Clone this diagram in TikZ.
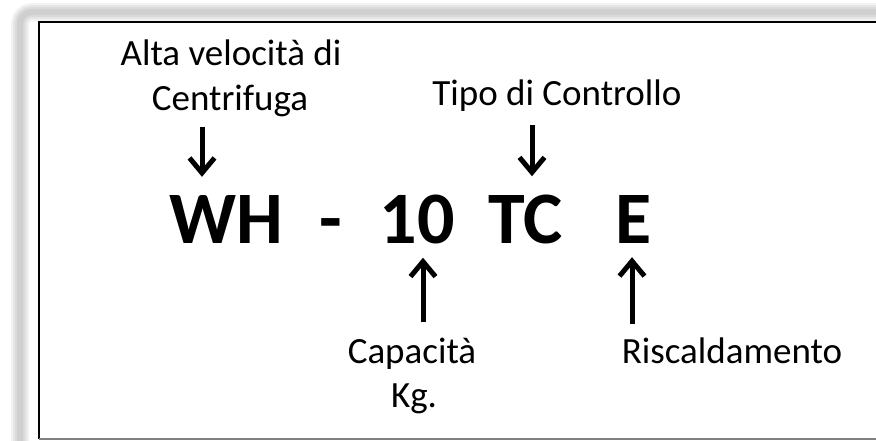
\documentclass[tikz,border=0pt]{standalone}
\usepackage{fontspec}
\setmainfont{Carlito}
\usetikzlibrary{arrows.meta}
\tikzset{
	lbl/.style={inner sep=0pt, anchor=base, font=\fontsize{37}{44}\selectfont},
	code/.style={inner sep=0pt, anchor=base, font=\fontsize{74}{80}\selectfont\bfseries},
	arr/.style={line width=5pt, -{Straight Barb[length=15pt, width=25pt]}}
}
\begin{document}
\begin{tikzpicture}[x=1pt, y=-1pt]
		\useasboundingbox (0,0) rectangle (876,440);
		%frame with soft shadow
		\foreach \w in {18, 14, 10, 6}
			\draw[black, opacity=0.05, line width=\w pt, rounded corners=12pt] (20,12) rectangle (900,470);
		\fill[white] (39,22) rectangle (900,439);
		\draw[line width=2pt] (900,22) -- (39,22) -- (39,439);
		\draw[gray, line width=2pt] (39,439) -- (900,439);
		%labels above
		\node[lbl] (alta) at (231, 65) {Alta velocità di};
		\node[lbl] (centr) at (230, 110) {Centrifuga};
		\node[lbl] (tipo) at (557, 105) {Tipo di Controllo};
		%code
		\node[code] (wh) at (226, 243) {WH};
		\node[code] (dash) at (331, 243) {-};
		\node[code] (ten) at (417, 243) {10};
		\node[code] (tc) at (526, 243) {TC};
		\node[code] (e) at (634, 243) {E};
		%labels below
		\node[lbl] (capac) at (412, 363) {Capacità};
		\node[lbl] (kg) at (414, 407) {Kg.};
		\node[lbl] (risc) at (732, 363) {Riscaldamento};
		%arrows
		\coordinate (a1) at (202, 0);
		\coordinate (a2) at (532, 0);
		\coordinate (a3) at (423, 0);
		\coordinate (a4) at (632, 0);
		\draw[arr, shorten <=10pt, shorten >=18pt] (centr.south -| a1) -- (wh.north -| a1);
		\draw[arr, shorten <=14pt, shorten >=18pt] (tipo.south -| a2) -- (tc.north -| a2);
		\draw[arr, shorten <=15pt, shorten >=14pt] (capac.north -| a3) -- (ten.south -| a3);
		\draw[arr, shorten <=13pt, shorten >=14pt] (risc.north -| a4) -- (e.south -| a4);
		\end{tikzpicture}
\end{document}
